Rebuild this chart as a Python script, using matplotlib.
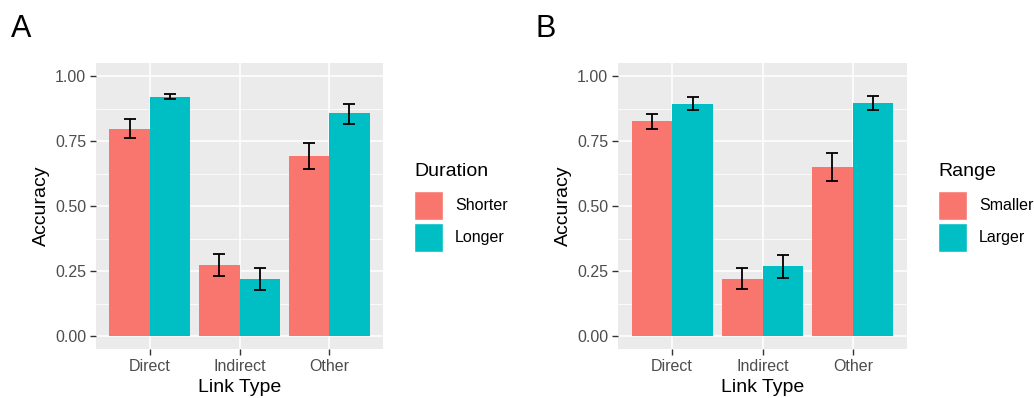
import numpy as np
import matplotlib.pyplot as plt
from matplotlib.patches import Rectangle

plt.rcParams['font.family'] = ['Liberation Sans', 'DejaVu Sans']

link_types = ['Direct', 'Indirect', 'Other']

# panel A: accuracy by stimulus duration
duration_groups = ['Shorter', 'Longer']
duration_mean = [[0.795, 0.273, 0.692],
                 [0.921, 0.220, 0.856]]
duration_lo = [[0.761, 0.229, 0.643],
               [0.911, 0.177, 0.814]]
duration_hi = [[0.833, 0.315, 0.742],
               [0.932, 0.261, 0.894]]

# panel B: accuracy by value range
range_groups = ['Smaller', 'Larger']
range_mean = [[0.826, 0.220, 0.650],
              [0.894, 0.269, 0.897]]
range_lo = [[0.796, 0.181, 0.596],
            [0.870, 0.225, 0.869]]
range_hi = [[0.854, 0.262, 0.703],
            [0.920, 0.312, 0.924]]

colors = ['#F8766D', '#00BFC4']
W, H = 1034, 398


def draw_panel(ax, means, los, his):
    ax.set_facecolor('#EBEBEB')
    x = np.arange(len(link_types)) + 1
    for gi in range(2):
        xs = x - 0.225 + gi * 0.45
        ax.bar(xs, means[gi], width=0.45, color=colors[gi], zorder=3)
        m = np.array(means[gi])
        yerr = [m - np.array(los[gi]), np.array(his[gi]) - m]
        ax.errorbar(xs, m, yerr=yerr, fmt='none', ecolor='black',
                    elinewidth=1.3, capsize=4.5, capthick=1.3, zorder=4)
    ax.set_xlim(0.4, 3.6)
    ax.set_ylim(-0.05, 1.05)
    ax.set_yticks([0, 0.25, 0.5, 0.75, 1.0])
    ax.set_yticklabels(['0.00', '0.25', '0.50', '0.75', '1.00'])
    ax.set_yticks([0.125, 0.375, 0.625, 0.875], minor=True)
    ax.set_xticks(x)
    ax.set_xticklabels(link_types)
    ax.grid(which='major', color='white', linewidth=1.1, zorder=0)
    ax.grid(which='minor', axis='y', color='white', linewidth=0.55, zorder=0)
    ax.set_axisbelow(True)
    for s in ax.spines.values():
        s.set_visible(False)
    ax.tick_params(axis='both', which='major', colors='#333333', length=4,
                   width=1.0, labelsize=11.5, labelcolor='#4D4D4D', pad=3)
    ax.tick_params(axis='x', pad=3.5)
    ax.tick_params(which='minor', length=0)
    ax.set_xlabel('Link Type', fontsize=14, labelpad=3)
    ax.set_ylabel('Accuracy', fontsize=14, labelpad=4)


def draw_legend(fig, title, groups, x0):
    fig.text(x0 / W, 1 - 172 / H, title, fontsize=14, va='center', ha='left')
    for i, g in enumerate(groups):
        top = 191 + i * 32
        fig.patches.append(Rectangle((x0 / W, 1 - (top + 29) / H), 29 / W, 29 / H,
                                     transform=fig.transFigure, facecolor=colors[i],
                                     edgecolor='white', linewidth=1))
        fig.text((x0 + 41) / W, 1 - (top + 14.5) / H, g, fontsize=11.5,
                 va='center', ha='left')


fig = plt.figure(figsize=(W / 100, H / 100), dpi=100)
ax_a = fig.add_axes([96 / W, 49 / H, 287 / W, 286 / H])
ax_b = fig.add_axes([618 / W, 49 / H, 289 / W, 286 / H])

draw_panel(ax_a, duration_mean, duration_lo, duration_hi)
draw_panel(ax_b, range_mean, range_lo, range_hi)

draw_legend(fig, 'Duration', duration_groups, 414)
draw_legend(fig, 'Range', range_groups, 938)

fig.text(11 / W, 1 - 29 / H, 'A', fontsize=22, va='center', ha='left')
fig.text(535 / W, 1 - 29 / H, 'B', fontsize=22, va='center', ha='left')

fig.savefig('out.png', dpi=100)
